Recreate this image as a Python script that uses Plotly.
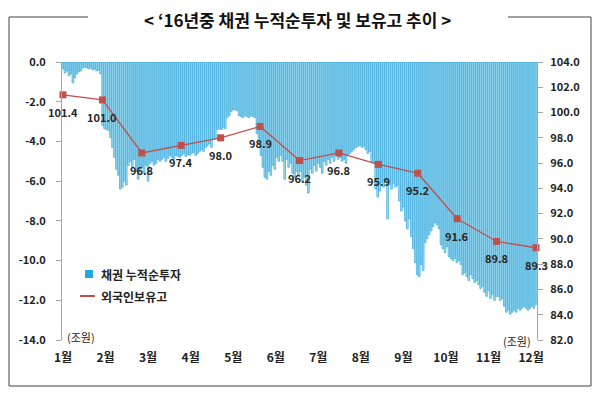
import plotly.graph_objects as go

# ---------------- data ----------------
BOND_NET = [
    -0.35, -0.55, -0.45, -0.7, -0.6, -1.05, -0.8, -0.6, -0.5, -0.45,
    -0.3, -0.25, -0.3, -0.35, -0.3, -0.4, -0.35, -0.45, -0.4, -0.6,
    -3.2, -3.35, -3.4, -3.45, -3.8, -4.3, -4.8, -5.4, -5.7, -6.4,
    -6.3, -6.0, -6.2, -5.2, -5.0, -5.3, -4.9, -5.5, -5.9, -5.4,
    -5.3, -5.6, -5.2, -6.0, -5.1, -5.0, -5.2, -5.1, -4.9, -5.0,
    -4.9, -4.8, -5.0, -4.85, -4.7, -4.8, -4.9, -4.7, -4.75, -4.8,
    -4.7, -4.6, -4.75, -4.65, -4.7, -4.6, -4.55, -4.7, -4.6, -4.5,
    -4.4, -4.5, -4.3, -4.2, -4.1, -4.3, -3.9, -3.85, -3.4, -3.35,
    -3.4, -3.3, -3.35, -2.8, -2.7, -2.5, -2.4, -2.4, -2.45, -2.7,
    -2.75, -2.8, -2.7, -2.75, -2.8, -2.7, -2.75, -2.8, -3.6, -4.1,
    -4.7, -5.3, -5.8, -5.9, -5.5, -5.7, -5.2, -5.4, -4.8, -5.0,
    -4.7, -5.0, -5.9, -4.9, -5.3, -5.1, -5.6, -5.8, -5.5, -5.7,
    -5.5, -6.0, -5.8, -6.2, -6.6, -5.4, -5.6, -5.2, -5.5, -5.1,
    -5.3, -5.6, -5.0, -5.2, -4.9, -5.1, -4.8, -5.0, -4.7, -4.9,
    -4.8, -5.0, -4.9, -5.1, -4.7, -4.6, -4.5, -4.4, -4.3, -4.25,
    -4.2, -4.3, -4.25, -4.4, -4.6, -4.5, -5.0, -5.1, -6.4, -6.8,
    -6.5, -6.1, -6.3, -6.0, -7.9, -6.2, -6.4, -6.1, -6.3, -6.2,
    -7.0, -7.5, -7.3, -8.0, -8.4, -7.9, -8.8, -9.4, -10.1, -10.7,
    -10.8, -10.2, -10.5, -9.1, -8.9, -8.7, -8.5, -8.3, -8.1, -8.2,
    -8.4, -9.2, -9.4, -9.6, -9.3, -9.8, -9.9, -10.0, -9.9, -10.1,
    -10.0, -10.2, -10.7, -10.6, -10.8, -11.0, -10.7, -10.9, -11.1, -11.0,
    -11.2, -11.4, -11.3, -11.6, -11.8, -11.5, -11.9, -11.7, -12.0, -11.8,
    -11.8, -12.0, -11.9, -12.3, -12.6, -12.5, -12.7, -12.6, -12.5, -12.6,
    -12.4, -12.5, -12.4, -12.3, -12.4, -12.5, -12.4, -12.3, -12.4, -12.2,
]
HOLDINGS = [101.4, 101.0, 96.8, 97.4, 98.0, 98.9, 96.2, 96.8, 95.9, 95.2, 91.6, 89.8, 89.3]
MONTHS = ["1월", "2월", "3월", "4월", "5월", "6월", "7월", "8월", "9월", "10월", "11월", "12월"]
LEFT_TICKS = [0, -2, -4, -6, -8, -10, -12, -14]
RIGHT_TICKS = [104, 102, 100, 98, 96, 94, 92, 90, 88, 86, 84, 82]
SERIES = ["채권 누적순투자", "외국인보유고"]
TITLE = "< ‘16년중 채권 누적순투자 및 보유고 추이 >"
UNIT = "(조원)"

# ---------------- layout helpers ----------------
# page is offset by the default 8px body margin
OFF = 8
PAGE_W, PAGE_H = 600, 393
FIG_W, FIG_H = PAGE_W - OFF, PAGE_H - OFF
L, R, T, B = 62, 537, 62, 340      # plot area in page pixels
FONT = "Noto Sans CJK KR"


def px(x):
    return (x - L) / (R - L)


def py(y):
    return (B - y) / (B - T)


n = len(BOND_NET)
idx = list(range(n))
line_x = [i * (n - 1) / (len(HOLDINGS) - 1) for i in range(len(HOLDINGS))]

fig = go.Figure()
fig.add_trace(go.Bar(
    x=idx, y=BOND_NET, name=SERIES[0], showlegend=False,
    marker=dict(color="#a3def3", line=dict(color="#37a8da", width=0.7)),
    width=0.85,
))
fig.add_trace(go.Scatter(
    x=line_x, y=HOLDINGS, yaxis="y2", name=SERIES[1], showlegend=False,
    mode="lines+markers",
    line=dict(color="#c0504d", width=1.3),
    marker=dict(symbol="square", size=7, color="#c0504d"),
    cliponaxis=False,
))

axis_col = "#a6a6a6"
fig.update_layout(
    width=FIG_W, height=FIG_H,
    margin=dict(l=L - OFF, r=PAGE_W - R, t=T - OFF, b=PAGE_H - B),
    paper_bgcolor="white", plot_bgcolor="white",
    font=dict(family=FONT, color="#222222"),
    barmode="overlay",
    showlegend=False,
    xaxis=dict(
        range=[-0.5, n - 0.5], tickvals=[i * 21.5 for i in range(len(MONTHS))], ticktext=MONTHS,
        showgrid=False, zeroline=False, showline=False,
        ticks="outside", ticklen=7, tickcolor="rgba(0,0,0,0)",
        tickfont=dict(size=12, weight=700, color="#222222"),
    ),
    yaxis=dict(
        range=[-14, 0], tickvals=LEFT_TICKS, ticktext=[f"{v:.1f}" for v in LEFT_TICKS],
        showgrid=False, zeroline=True, zerolinecolor=axis_col, zerolinewidth=1,
        showline=True, linecolor=axis_col, linewidth=1,
        ticks="outside", ticklen=5, tickcolor=axis_col, ticklabelstandoff=8,
        tickfont=dict(size=11, weight=700, color="#222222"),
    ),
    yaxis2=dict(
        range=[82, 104], tickvals=RIGHT_TICKS, ticktext=[f"{v:.1f}" for v in RIGHT_TICKS],
        overlaying="y", side="right",
        showgrid=False, zeroline=False,
        showline=True, linecolor=axis_col, linewidth=1,
        ticks="outside", ticklen=5, tickcolor=axis_col, ticklabelstandoff=5,
        tickfont=dict(size=11, weight=700, color="#222222"),
    ),
)

frame_col = "#7f7f7f"
shapes = []
for (x0, y0, x1, y1) in [(9, 17, 9, 386), (591, 17, 591, 386), (9, 386, 591, 386),
                         (9, 17, 88, 17), (508, 17, 591, 17)]:
    shapes.append(dict(type="line", xref="paper", yref="paper",
                       x0=px(x0), y0=py(y0), x1=px(x1), y1=py(y1),
                       line=dict(color=frame_col, width=1.5)))
# legend symbols
shapes.append(dict(type="rect", xref="paper", yref="paper",
                   x0=px(85), x1=px(93), y0=py(278), y1=py(270),
                   fillcolor="#1fa8e0", line=dict(width=0)))
shapes.append(dict(type="line", xref="paper", yref="paper",
                   x0=px(80), x1=px(95), y0=py(296), y1=py(296),
                   line=dict(color="#c0504d", width=2)))
fig.update_layout(shapes=shapes)

ann = [
    dict(text=TITLE, x=px(297), y=py(19), xref="paper", yref="paper",
         showarrow=False, font=dict(size=17, weight=700, color="#111111"),
         xanchor="center", yanchor="middle", borderpad=0),
    dict(text=UNIT, x=px(65), y=py(337), xref="paper", yref="paper",
         showarrow=False, font=dict(size=11, color="#222222"),
         xanchor="left", yanchor="middle"),
    dict(text=UNIT, x=px(533), y=py(341), xref="paper", yref="paper",
         showarrow=False, font=dict(size=11, color="#222222"),
         xanchor="right", yanchor="middle"),
    dict(text=SERIES[0], x=px(99), y=py(274), xref="paper", yref="paper",
         showarrow=False, font=dict(size=12, weight=700, color="#222222"),
         xanchor="left", yanchor="middle"),
    dict(text=SERIES[1], x=px(99), y=py(296), xref="paper", yref="paper",
         showarrow=False, font=dict(size=12, weight=700, color="#222222"),
         xanchor="left", yanchor="middle"),
]
# data labels under each holdings marker
for xv, yv in zip(line_x, HOLDINGS):
    ann.append(dict(text=f"{yv:.1f}", x=xv, y=yv, xref="x", yref="y2",
                    showarrow=False, yshift=-17, xanchor="center", yanchor="middle",
                    font=dict(size=11, weight=700, color="#262626")))
fig.update_layout(annotations=ann)

fig.write_html("out.html")
